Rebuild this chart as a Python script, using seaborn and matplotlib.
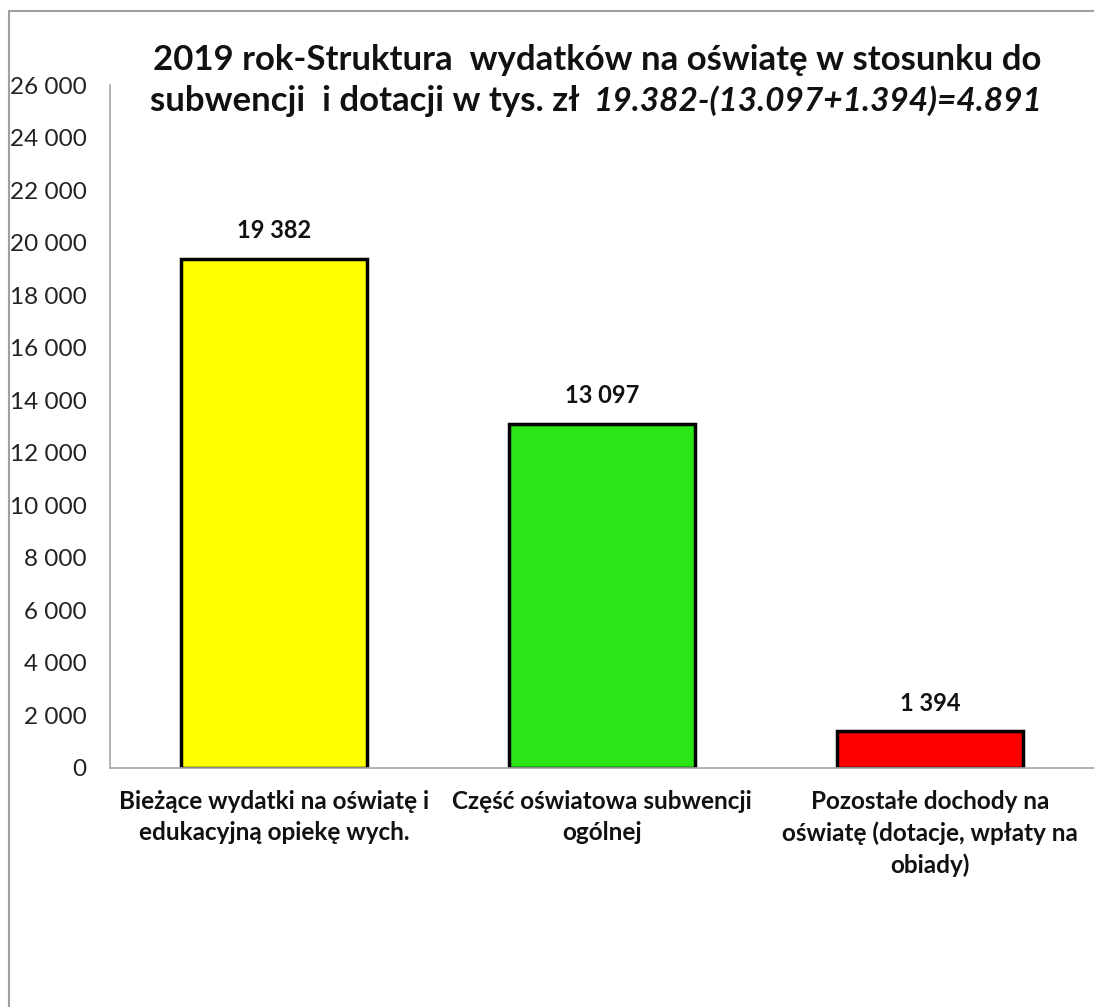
import matplotlib
matplotlib.use("Agg")
import matplotlib.pyplot as plt
import seaborn as sns
import pandas as pd
from matplotlib.lines import Line2D

categories = ["Bieżące wydatki na oświatę i\nedukacyjną opiekę wych.",
              "Część oświatowa subwencji\nogólnej",
              "Pozostałe dochody na\noświatę (dotacje, wpłaty na\nobiady)"]
values = [19382, 13097, 1394]
colors = ["#FFFF00", "#2BE617", "#FF0000"]
yticks = list(range(0, 26001, 2000))

sns.set_theme(style="white")
plt.rcParams['font.family'] = ['Lato', 'DejaVu Sans']

df = pd.DataFrame({"cat": categories, "val": values})

fig = plt.figure(figsize=(10.94, 10.07), dpi=100)
ax = fig.add_axes([110/1094, 1-768/1007, 1-110/1094, (768-85)/1007])
sns.barplot(data=df, x="cat", y="val", hue="cat", palette=colors, legend=False,
            width=0.57, edgecolor="black", linewidth=2.5, ax=ax, saturation=1)
ax.set_ylim(0, 26000)
ax.set_xlim(-0.5, 2.5)
ax.set_yticks(yticks)
ax.set_yticklabels([f"{v:,}".replace(",", " ") for v in yticks], fontsize=17.5, color="#222222")
ax.set_xticks(range(3))
ax.set_xticklabels(categories, fontsize=17.5, fontweight="bold", color="#111111", linespacing=1.42)
ax.tick_params(axis="x", length=0, pad=16)
ax.tick_params(axis="y", length=0, pad=17)
ax.set_xlabel("")
ax.set_ylabel("")
for s in ["top", "right"]:
    ax.spines[s].set_visible(False)
for s in ["left", "bottom"]:
    ax.spines[s].set_color("#A6A6A6")
    ax.spines[s].set_linewidth(1.2)

for i, v in enumerate(values):
    ax.annotate(f"{v:,}".replace(",", " "), (i, v), xytext=(0, 12), textcoords="offset points",
                ha="center", va="bottom", fontsize=17, fontweight="bold", color="#111111")

fig.text(597/1094, 1-60/1007, "2019 rok-Struktura  wydatków na oświatę w stosunku do",
         ha="center", va="center", fontsize=25, fontweight="bold", color="#111111")
fig.text(580/1094, 1-101/1007, "subwencji  i dotacji w tys. zł",
         ha="right", va="center", fontsize=25, fontweight="bold", color="#111111")
fig.text(594/1094, 1-101/1007, "19.382-(13.097+1.394)=4.891",
         ha="left", va="center", fontsize=24, fontweight="bold", style="italic", color="#111111")

fig.add_artist(Line2D([9/1094, 9/1094], [0, 1-11/1007], color="#A0A0A0", lw=1.5, transform=fig.transFigure))
fig.add_artist(Line2D([9/1094, 1], [1-11/1007, 1-11/1007], color="#A0A0A0", lw=1.5, transform=fig.transFigure))

fig.savefig("out.png", dpi=100)
